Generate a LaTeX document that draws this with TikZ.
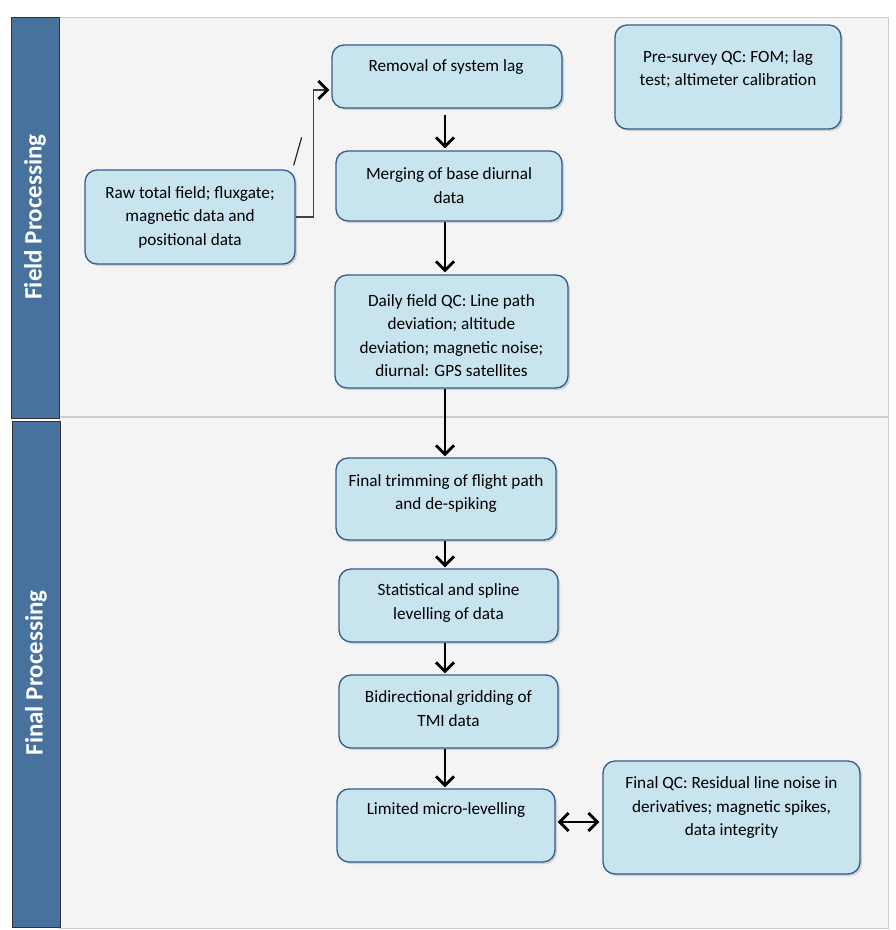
\documentclass[tikz,border=0pt]{standalone}
\usepackage{fontspec}
\setmainfont{Carlito}
\usetikzlibrary{arrows.meta,shadows,calc}
\definecolor{boxfill}{RGB}{200,228,238}
\definecolor{boxdraw}{RGB}{52,92,140}
\definecolor{barfill}{RGB}{72,114,158}
\definecolor{lanebg}{RGB}{244,244,244}
\definecolor{laneline}{RGB}{205,205,205}
\begin{document}
\begin{tikzpicture}[x=1pt,y=-1pt,
  box/.style={draw=boxdraw, fill=boxfill, line width=1.3pt, rounded corners=12pt,
    drop shadow={shadow xshift=2pt, shadow yshift=-2pt, opacity=0.3}, inner sep=0pt},
  txt/.style={align=center, font=\fontsize{17.2}{23.5}\selectfont, text=black, inner sep=0pt},
  lanetitle/.style={rotate=90, font=\bfseries\fontsize{25}{25}\selectfont, text=white},
  bar/.style={draw=black!80, fill=barfill, line width=1pt},
  tip/.style={Straight Barb[length=9pt,width=18pt,line width=2.8pt]},
  flow/.style={line width=1.5pt, -{Straight Barb[length=9pt,width=18pt,line width=2.8pt]}},
  both/.style={line width=1.5pt, {Straight Barb[length=9pt,width=18pt,line width=2.8pt]}-{Straight Barb[length=9pt,width=18pt,line width=2.8pt]}}
]
\useasboundingbox[fill=white] (0,0) rectangle (896,930);
% lanes
\draw[laneline, fill=lanebg, line width=1pt] (59,17) rectangle (888,928);
\draw[laneline, line width=1.5pt] (59,417) -- (888,417);
\draw[bar] (11,17) rectangle (59,418);
\draw[bar] (12,421) rectangle (60,927);
\node[lanetitle] (lane1) at (35,217) {Field Processing};
\node[lanetitle] (lane2) at (36,673) {Final Processing};
% boxes
\node[box, minimum width=230, minimum height=63] (rem) at (447,76.5) {};
\node[box, minimum width=226, minimum height=70] (merge) at (449,186) {};
\node[box, minimum width=233, minimum height=113] (daily) at (451.5,331.5) {};
\node[box, minimum width=210, minimum height=94] (raw) at (190,217) {};
\node[box, minimum width=226, minimum height=104] (pre) at (728,77) {};
\node[box, minimum width=220, minimum height=82] (trim) at (446,499) {};
\node[box, minimum width=219, minimum height=73] (stat) at (448.5,605.5) {};
\node[box, minimum width=219, minimum height=73] (bidir) at (448.5,711.5) {};
\node[box, minimum width=218, minimum height=73] (limit) at (446,825.5) {};
\node[box, minimum width=257, minimum height=113] (fqc) at (731.5,817.5) {};
% texts
\node[txt] (t-rem) at (446,67) {Removal of system lag};
\node[txt] (t-merge) at (449,185.5) {Merging of base diurnal\\data};
\node[txt] (t-daily) at (451.5,335.5) {Daily field QC: Line path\\deviation; altitude\\deviation; magnetic noise;\\diurnal: GPS satellites};
\node[txt] (t-raw) at (190,217) {Raw total field; fluxgate;\\magnetic data and\\positional data};
\node[txt] (t-pre) at (728,69) {Pre-survey QC: FOM; lag\\test; altimeter calibration};
\node[txt] (t-trim) at (446,493.5) {Final trimming of flight path\\and de-spiking};
\node[txt] (t-stat) at (448.5,603) {Statistical and spline\\levelling of data};
\node[txt] (t-bidir) at (448.5,708.5) {Bidirectional gridding of\\TMI data};
\node[txt] (t-limit) at (446,810) {Limited micro-levelling};
\node[txt] (t-fqc) at (731.5,807.5) {Final QC: Residual line noise in\\derivatives; magnetic spikes,\\data integrity};
% connectors
\coordinate (ax) at (445,0);
\draw[flow, shorten <=6pt, shorten >=2pt] (rem.south -| ax) -- (merge.north -| ax);
\draw[flow, shorten >=2pt] (merge.south -| ax) -- (daily.north -| ax);
\draw[flow, shorten >=1pt] (daily.south -| ax) -- (trim.north -| ax);
\draw[flow, shorten >=1pt] (trim.south -| ax) -- (stat.north -| ax);
\draw[flow, shorten >=1pt] (stat.south -| ax) -- (bidir.north -| ax);
\draw[flow, shorten >=1pt] (bidir.south -| ax) -- (limit.north -| ax);
\draw[both, shorten <=2pt, shorten >=3pt] ($(limit.east)+(0,-3.5)$) -- ($(fqc.west)+(0,4.5)$);
\draw[black!75, line width=1.1pt, -{Straight Barb[length=9pt,width=18pt,line width=2.8pt,black]}, shorten >=2pt]
  (raw.east) -- ++(18,0) |- ($(rem.west)+(0,13.5)$);
\draw[black!85, line width=1.2pt] ($(raw.north east)+(-2,-4)$) -- ++(8,-28);
\end{tikzpicture}
\end{document}
